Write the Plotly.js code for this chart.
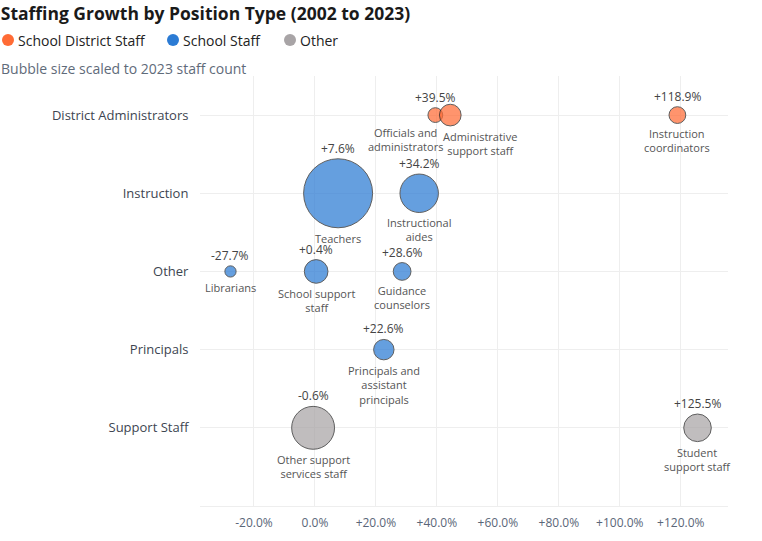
<!DOCTYPE html>
<html>
<head>
<meta charset="utf-8">
<script src="https://cdn.plot.ly/plotly-3.0.1.min.js"></script>
<style>html,body{margin:0;padding:0;background:#fff;}#chart{width:762px;height:541px;}</style>
</head>
<body>
<div id="chart"></div>
<script>
// ---------- data ----------
const categories = ["District Administrators", "Instruction", "Other", "Principals", "Support Staff"];
const groups = ["School District Staff", "School Staff", "Other"];

const positionNames = [
  "Officials and<br>administrators", "Administrative<br>support staff", "Instruction<br>coordinators",
  "Teachers", "Instructional<br>aides", "Librarians", "School support<br>staff", "Guidance<br>counselors",
  "Principals and<br>assistant<br>principals",
  "Other support<br>services staff", "Student<br>support staff"
];
const positionCategory = [
  "District Administrators", "District Administrators", "District Administrators",
  "Instruction", "Instruction", "Other", "Other", "Other",
  "Principals",
  "Support Staff", "Support Staff"
];
const positionGroup = [
  "School District Staff", "School District Staff", "School District Staff",
  "School Staff", "School Staff", "School Staff", "School Staff", "School Staff",
  "School Staff",
  "Other", "Other"
];
const growthPct = [39.5, 44.4, 118.9, 7.6, 34.2, -27.7, 0.4, 28.6, 22.6, -0.6, 125.5];
const growthLabels = ["+39.5%", "", "+118.9%", "+7.6%", "+34.2%", "-27.7%", "+0.4%", "+28.6%", "+22.6%", "-0.6%", "+125.5%"];
// estimated 2023 staff counts (thousands)
const staff2023K = [147, 316, 189, 3200, 993, 85, 376, 212, 280, 1236, 512];

const xTickVals = [-20, 0, 20, 40, 60, 80, 100, 120];
const xTickText = ["-20.0%", "0.0%", "+20.0%", "+40.0%", "+60.0%", "+80.0%", "+100.0%", "+120.0%"];

// ---------- styles ----------
const groupColors = {"School District Staff": "#FF6B35", "School Staff": "#2B7BD4", "Other": "#A8A4A6"};
const FONT = "Open Sans, Noto Sans, sans-serif";
const MAX_DIAM = 69;
const maxCount = Math.max(...staff2023K);
const diam = staff2023K.map(c => MAX_DIAM * Math.sqrt(c / maxCount));
const nameXShift = {"Officials and<br>administrators": -30, "Administrative<br>support staff": 30};

// pixel helpers for the header (legend + subtitle) that lives outside the plot area
const M = {l: 200, r: 34, t: 76, b: 35};
const PW = 762 - M.l - M.r, PH = 541 - M.t - M.b;
const px2x = p => (p - M.l) / PW;
const py2y = p => 1 + (M.t - p) / PH;

const traces = [];
groups.forEach(g => {
  const idx = positionGroup.map((v, i) => v === g ? i : -1).filter(i => i >= 0);
  traces.push({
    type: "scatter", mode: "markers", name: g, showlegend: false,
    x: idx.map(i => growthPct[i]),
    y: idx.map(i => positionCategory[i]),
    text: idx.map(i => positionNames[i].replace(/<br>/g, " ")),
    hovertemplate: "%{text}: %{x:+.1f}%<extra></extra>",
    marker: {size: idx.map(i => diam[i]), sizemode: "diameter", color: groupColors[g], opacity: 0.72,
             line: {color: "#222", width: 1}}
  });
});

const annotations = [];
growthPct.forEach((v, i) => {
  if (growthLabels[i]) {
    annotations.push({x: v, y: positionCategory[i], xref: "x", yref: "y", text: growthLabels[i],
      showarrow: false, yanchor: "bottom", yshift: diam[i] / 2,
      font: {family: FONT, size: 12, color: "#444"}});
  }
  annotations.push({x: v, y: positionCategory[i], xref: "x", yref: "y", text: positionNames[i],
    showarrow: false, yanchor: "top", yshift: -(diam[i] / 2 + 1), xshift: nameXShift[positionNames[i]] || 0,
    align: "center", font: {family: FONT, size: 11, color: "#555"}});
});
annotations.push({xref: "paper", yref: "paper", x: px2x(-1), y: py2y(68), xanchor: "left", yanchor: "middle",
  showarrow: false, text: "Bubble size scaled to 2023 staff count", font: {family: FONT, size: 14, color: "#5f6b7a"}});

// legend (custom header row)
const legendMarkerX = [8, 173, 290];
const shapes = [];
groups.forEach((g, k) => {
  shapes.push({type: "circle", xref: "paper", yref: "paper", xsizemode: "pixel", ysizemode: "pixel",
    xanchor: px2x(legendMarkerX[k]), yanchor: py2y(40), x0: -6, x1: 6, y0: -6, y1: 6,
    fillcolor: groupColors[g], line: {width: 0}});
  annotations.push({xref: "paper", yref: "paper", x: px2x(legendMarkerX[k] + 8), y: py2y(40),
    xanchor: "left", yanchor: "middle", showarrow: false, text: g,
    font: {family: FONT, size: 14, color: "#222"}});
});

const layout = {
  width: 762, height: 541,
  margin: Object.assign({autoexpand: false}, M),
  paper_bgcolor: "#fff", plot_bgcolor: "#fff",
  font: {family: FONT, color: "#444"},
  title: {text: "Staffing Growth by Position Type (2002 to 2023)", xref: "container", x: 0.001, xanchor: "left",
          yref: "container", y: 1 - 14 / 541, yanchor: "middle",
          font: {family: FONT, size: 17.5, color: "#1a1a1a", weight: 700}},
  showlegend: false,
  xaxis: {range: [-37.7, 135.5], tickvals: xTickVals, ticktext: xTickText, showgrid: true, gridcolor: "#eeeeee",
          zeroline: false, showline: true, linecolor: "#eeeeee", ticks: "outside", ticklen: 6, tickcolor: "rgba(0,0,0,0)",
          tickfont: {family: FONT, size: 12, color: "#5a6678"}},
  yaxis: {type: "category", categoryorder: "array", categoryarray: categories, range: [5, -0.5],
          showgrid: true, gridcolor: "#eeeeee", zeroline: false, showline: false,
          ticks: "outside", ticklen: 8, tickcolor: "rgba(0,0,0,0)",
          tickfont: {family: FONT, size: 13, color: "#3d4551"}},
  shapes: shapes,
  annotations: annotations
};

Plotly.newPlot("chart", traces, layout, {displayModeBar: false});
</script>
</body>
</html>
